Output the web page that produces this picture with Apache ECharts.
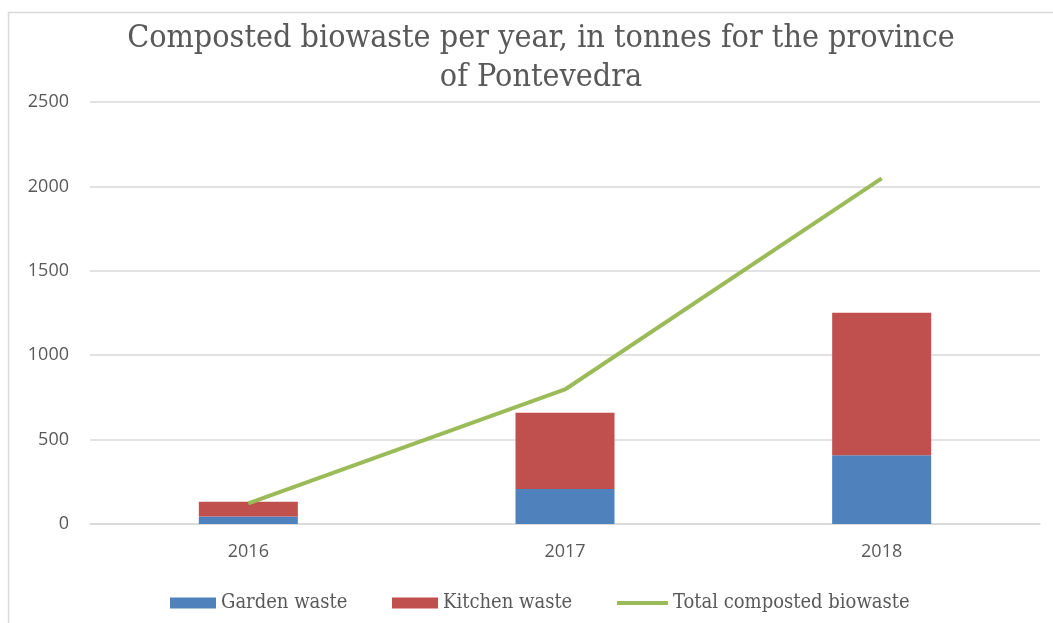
<!DOCTYPE html>
<html>
<head>
<meta charset="utf-8">
<script src="https://cdn.jsdelivr.net/npm/echarts@6/dist/echarts.min.js"></script>
<style>
html,body{margin:0;padding:0;background:#fff;}
#c{width:1053px;height:623px;}
</style>
</head>
<body>
<div id="c"></div>
<script>
var categories = ['2016', '2017', '2018'];
var gardenWaste = [45, 207, 407];
var kitchenWaste = [87, 452, 845];
var totalComposted = [122, 797, 2048];
var yTicks = { min: 0, max: 2500, interval: 500 };

var serif = '"DejaVu Serif Condensed", "Liberation Serif", serif';
var sans = '"Open Sans", "Noto Sans", sans-serif';
var legendText = { fontFamily: serif, fontSize: 20, color: '#595959' };
var chart = echarts.init(document.getElementById('c'));
chart.setOption({
  animation: false,
  backgroundColor: '#ffffff',
  graphic: [{
    type: 'rect', left: 6, top: 10, shape: { width: 1100, height: 700 },
    style: { fill: 'none', stroke: '#d9d9d9', lineWidth: 1.5 }, silent: true
  }],
  title: {
    text: 'Composted biowaste per year, in tonnes for the province\nof Pontevedra',
    left: 536, top: 14, textAlign: 'center',
    textStyle: { fontFamily: serif, fontWeight: 'normal', fontSize: 32, color: '#595959', lineHeight: 39 }
  },
  legend: [{
    data: ['Garden waste'],
    left: 165, top: 588, itemWidth: 46, itemHeight: 11, icon: 'rect', textStyle: legendText
  }, {
    data: ['Kitchen waste'],
    left: 387, top: 588, itemWidth: 46, itemHeight: 11, icon: 'rect', textStyle: legendText
  }, {
    data: ['Total composted biowaste'],
    left: 612, top: 588, itemWidth: 51, itemHeight: 4, icon: 'rect', textStyle: legendText
  }],
  grid: { left: 90, right: 13, top: 102, bottom: 99 },
  xAxis: {
    type: 'category', data: categories,
    axisLine: { show: true, lineStyle: { color: '#d9d9d9', width: 1.5 } },
    axisTick: { show: false },
    axisLabel: { fontFamily: sans, fontSize: 18, color: '#595959', margin: 19 }
  },
  yAxis: {
    type: 'value', min: yTicks.min, max: yTicks.max, interval: yTicks.interval,
    axisLine: { show: false }, axisTick: { show: false },
    splitLine: { lineStyle: { color: '#d9d9d9', width: 1.5 } },
    axisLabel: { fontFamily: sans, fontSize: 18, color: '#595959', margin: 21,
      formatter: function (v) { return String(v); } }
  },
  series: [{
    name: 'Garden waste', type: 'bar', stack: 'w', data: gardenWaste,
    barWidth: 99, itemStyle: { color: '#4F81BD' }
  }, {
    name: 'Kitchen waste', type: 'bar', stack: 'w', data: kitchenWaste,
    barWidth: 99, itemStyle: { color: '#C0504D' }
  }, {
    name: 'Total composted biowaste', type: 'line', data: totalComposted,
    symbol: 'none', lineStyle: { color: '#9BBB59', width: 4 }, itemStyle: { color: '#9BBB59' }
  }]
});
</script>
</body>
</html>
